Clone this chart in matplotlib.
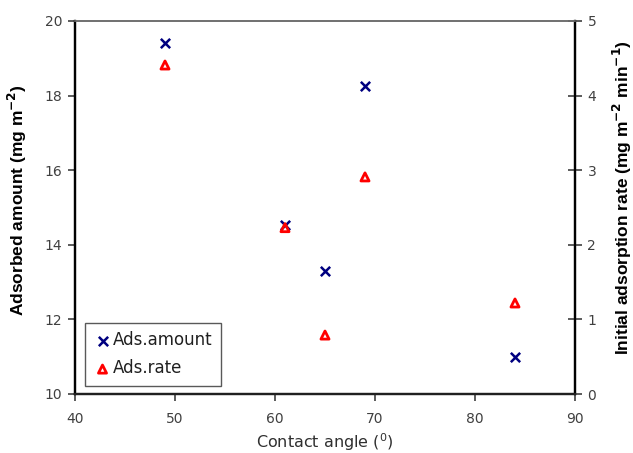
import matplotlib
matplotlib.use("Agg")
import matplotlib.pyplot as plt

# Data
contact_angle = [49, 61, 65, 69, 84]
ads_amount = [19.42, 14.53, 13.31, 18.27, 10.99]
ads_rate = [4.41, 2.23, 0.79, 2.91, 1.22]

x_ticks = [40, 50, 60, 70, 80, 90]
y_left_ticks = [10, 12, 14, 16, 18, 20]
y_right_ticks = [0, 1, 2, 3, 4, 5]

plt.rcParams['font.family'] = ['DejaVu Sans']

fig = plt.figure(figsize=(6.33, 4.53), dpi=100)
ax = fig.add_axes([75/633, (453-394)/453, 500/633, 373/453])
ax2 = ax.twinx()

tick_color = '#404040'
label_font = ['Liberation Sans Narrow', 'Liberation Sans', 'DejaVu Sans']

h1 = ax.scatter(contact_angle, ads_amount, marker='x', s=45, color='#000080',
                linewidths=1.8, label='Ads.amount', zorder=3)
h2 = ax2.scatter(contact_angle, ads_rate, marker='^', s=34, facecolors='none',
                 edgecolors='#FF0000', linewidths=2.0, label='Ads.rate', zorder=3)

ax.set_xlim(40, 90)
ax.set_ylim(10, 20)
ax2.set_ylim(0, 5)
ax.set_xticks(x_ticks)
ax.set_yticks(y_left_ticks)
ax2.set_yticks(y_right_ticks)

for a in (ax, ax2):
    a.spines['top'].set_color('#707070')
    a.spines['top'].set_linewidth(1.2)
    a.spines['left'].set_linewidth(1.6)
    a.spines['right'].set_linewidth(1.6)
    a.spines['bottom'].set_linewidth(1.6)
    a.spines['bottom'].set_color('#202020')

ax.tick_params(axis='x', direction='out', length=5, width=1.2, color='#404040',
               labelsize=10, labelcolor=tick_color, pad=8)
ax.tick_params(axis='y', direction='out', length=5, width=1.2, color='#404040',
               labelsize=10, labelcolor=tick_color, pad=4)
ax2.tick_params(axis='y', direction='inout', length=10, width=1.2, color='#404040',
                labelsize=10, labelcolor=tick_color, pad=4)

ax.set_xlabel('Contact angle ($^{0}$)', fontsize=11.5, color='#303030', labelpad=4)
ax.set_ylabel('Adsorbed amount (mg m$^{\\mathbf{-2}}$)', fontsize=12.5, fontweight='bold',
              family=label_font)
ax2.set_ylabel('Initial adsorption rate (mg m$^{\\mathbf{-2}}$ min$^{\\mathbf{-1}}$)', fontsize=12.5,
               fontweight='bold', family=label_font)
ax.yaxis.set_label_coords(-0.092, 0.52)
ax2.yaxis.set_label_coords(1.072, 0.528)

leg = ax.legend(handles=[h1, h2], loc='lower left', bbox_to_anchor=(0.02, 0.022),
                frameon=True, fancybox=False, edgecolor='#303030', fontsize=12,
                handletextpad=0.1, borderpad=0.5, labelspacing=0.6, handlelength=1.1,
                borderaxespad=0)
leg.get_frame().set_linewidth(1.0)
for t in leg.get_texts():
    t.set_color('#202020')

fig.savefig('out.png', dpi=100)
